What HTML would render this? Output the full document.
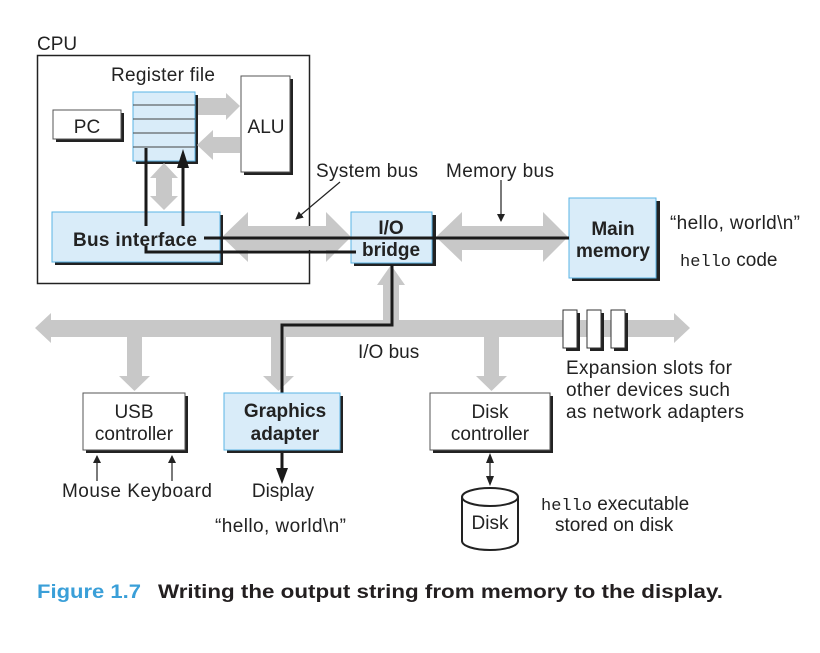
<!DOCTYPE html>
<html><head><meta charset="utf-8"><style>
html,body{margin:0;padding:0;background:#fff;}
svg{display:block;}
text{font-family:"Liberation Sans",sans-serif;font-size:19px;fill:#222;}
.b{font-weight:bold;}
.m{font-family:"Liberation Mono",monospace;}
</style></head><body>
<svg width="820" height="653" viewBox="0 0 820 653" xmlns="http://www.w3.org/2000/svg">
<defs>
<marker id="ah" markerWidth="8" markerHeight="8" refX="7" refY="4" orient="auto" markerUnits="userSpaceOnUse"><path d="M0,0 L8,4 L0,8 z" fill="#222"/></marker>
</defs>
<text x="37" y="50">CPU</text>
<rect x="37.5" y="55.5" width="272" height="228" fill="none" stroke="#222" stroke-width="1.5"/>
<text x="163" y="81" text-anchor="middle" textLength="104">Register file</text>
<rect x="56" y="113" width="68" height="29" fill="#222"/>
<rect x="53" y="110" width="68" height="29" fill="#fff" stroke="#555"/>
<text x="87" y="133" text-anchor="middle">PC</text>
<rect x="136" y="95" width="62" height="69" fill="#222"/>
<rect x="133" y="92" width="62" height="69" fill="#d9ecf9" stroke="#5ab4e5"/>
<g stroke="#444" stroke-width="1"><line x1="133" y1="105" x2="195" y2="105"/><line x1="133" y1="119" x2="195" y2="119"/><line x1="133" y1="133" x2="195" y2="133"/><line x1="133" y1="147" x2="195" y2="147"/></g>
<rect x="244" y="79" width="49" height="96" fill="#222"/>
<rect x="241" y="76" width="49" height="96" fill="#fff" stroke="#555"/>
<text x="266" y="133" text-anchor="middle">ALU</text>
<g fill="#c8c8c8">
<path d="M198,98 H226 V93 L240,106 L226,120 V115 H198 z"/>
<path d="M240,137 H213 V130 L197,145 L213,160 V153 H240 z"/>
<path d="M156,178 H150 L164,163 L178,178 H172 V196 H178 L164,210 L150,196 H156 z"/>
<path d="M222,237 L248,212 V226 H326 V212 L351,237 L326,262 V250 H248 V262 z"/>
<path d="M436,237 L462,212 V226 H543 V212 L568,237 L543,262 V250 H462 V262 z"/>
<path d="M383,285 H377 L391,265 L405,285 H399 V322 H383 z"/>
<path d="M35,328 L51,313 V320 H674 V313 L690,328 L674,343 V337 H51 V343 z"/>
<path d="M127,336 H142 V376 H150 L134.5,391 L119,376 H127 z"/>
<path d="M271,336 H286 V376 H294 L278.5,391 L263,376 H271 z"/>
<path d="M484,336 H499 V376 H507 L491.5,391 L476,376 H484 z"/>
</g>
<rect x="55" y="215" width="168" height="50" fill="#222"/>
<rect x="52" y="212" width="168" height="50" fill="#d9ecf9" stroke="#5ab4e5"/>
<rect x="354" y="215" width="82" height="51" fill="#222"/>
<rect x="351" y="212" width="81" height="51" fill="#d9ecf9" stroke="#5ab4e5"/>
<rect x="572" y="201" width="88" height="80" fill="#222"/>
<rect x="569" y="198" width="87" height="80" fill="#d9ecf9" stroke="#5ab4e5"/>
<g stroke="#1a1a1a" stroke-width="3" fill="none">
<line x1="146" y1="148" x2="146" y2="226"/>
<polyline points="146,246 146,252 356,252"/>
<line x1="204" y1="238" x2="569" y2="238"/>
<line x1="183" y1="165" x2="183" y2="226"/>
<polyline points="392,265 392,325 282,325 282,472"/>
</g>
<path d="M177,168 L183,149 L189,168 z" fill="#1a1a1a"/>
<path d="M276,468 L282,484 L288,468 z" fill="#1a1a1a"/>
<text x="135" y="246" text-anchor="middle" class="b" textLength="124">Bus interface</text>
<text x="391" y="234" text-anchor="middle" class="b">I/O</text>
<text x="391" y="256" text-anchor="middle" class="b">bridge</text>
<text x="613" y="235" text-anchor="middle" class="b">Main</text>
<text x="613" y="257" text-anchor="middle" class="b">memory</text>
<text x="670" y="229" textLength="130">“hello, world\n”</text>
<text x="680" y="266"><tspan class="m" style="font-size:17px">hello</tspan> code</text>
<text x="316" y="177" textLength="102">System bus</text>
<text x="446" y="177" textLength="108">Memory bus</text>
<line x1="340" y1="182" x2="296" y2="219" stroke="#222" stroke-width="1.2" marker-end="url(#ah)"/>
<line x1="501" y1="180" x2="501" y2="221" stroke="#222" stroke-width="1.2" marker-end="url(#ah)"/>
<text x="358" y="358">I/O bus</text>
<g>
<rect x="566" y="313" width="14" height="38" fill="#222"/><rect x="563" y="310" width="14" height="38" fill="#fff" stroke="#333"/>
<rect x="590" y="313" width="14" height="38" fill="#222"/><rect x="587" y="310" width="14" height="38" fill="#fff" stroke="#333"/>
<rect x="614" y="313" width="14" height="38" fill="#222"/><rect x="611" y="310" width="14" height="38" fill="#fff" stroke="#333"/>
</g>
<text x="566" y="374" textLength="166">Expansion slots for</text>
<text x="566" y="396" textLength="164">other devices such</text>
<text x="566" y="418" textLength="178">as network adapters</text>
<rect x="86" y="396" width="102" height="57" fill="#222"/>
<rect x="83" y="393" width="102" height="57" fill="#fff" stroke="#555"/>
<text x="134" y="418" text-anchor="middle">USB</text>
<text x="134" y="440" text-anchor="middle">controller</text>
<rect x="227" y="396" width="116" height="57" fill="#222"/>
<rect x="224" y="393" width="116" height="57" fill="#d9ecf9" stroke="#5ab4e5"/>
<text x="285" y="417" text-anchor="middle" class="b">Graphics</text>
<text x="285" y="440" text-anchor="middle" class="b">adapter</text>
<rect x="433" y="396" width="120" height="57" fill="#222"/>
<rect x="430" y="393" width="120" height="57" fill="#fff" stroke="#555"/>
<text x="490" y="418" text-anchor="middle">Disk</text>
<text x="490" y="440" text-anchor="middle">controller</text>
<line x1="97" y1="481" x2="97" y2="456" stroke="#222" stroke-width="1.2" marker-end="url(#ah)"/>
<line x1="172" y1="481" x2="172" y2="456" stroke="#222" stroke-width="1.2" marker-end="url(#ah)"/>
<line x1="490" y1="462" x2="490" y2="477" stroke="#222" stroke-width="1.2"/>
<path d="M486,463 L490,453 L494,463 z M486,476 L490,486 L494,476 z" fill="#222"/>
<text x="62" y="497" textLength="150">Mouse Keyboard</text>
<text x="283" y="497" text-anchor="middle">Display</text>
<text x="215" y="532" textLength="131">“hello, world\n”</text>
<path d="M462,497 V541 A28,9 0 0 0 518,541 V497" fill="#fff" stroke="#222" stroke-width="2"/>
<ellipse cx="490" cy="497" rx="28" ry="9" fill="#fff" stroke="#222" stroke-width="2"/>
<text x="490" y="529" text-anchor="middle">Disk</text>
<text x="541" y="510"><tspan class="m" style="font-size:17px">hello</tspan> executable</text>
<text x="555" y="531">stored on disk</text>
<text x="37" y="598" style="font-size:19px;fill:#3a9fd8" class="b" textLength="104" lengthAdjust="spacingAndGlyphs">Figure 1.7</text>
<text x="158" y="598" style="font-size:19px;fill:#231f20" class="b" textLength="565" lengthAdjust="spacingAndGlyphs">Writing the output string from memory to the display.</text>
</svg>
</body></html>
